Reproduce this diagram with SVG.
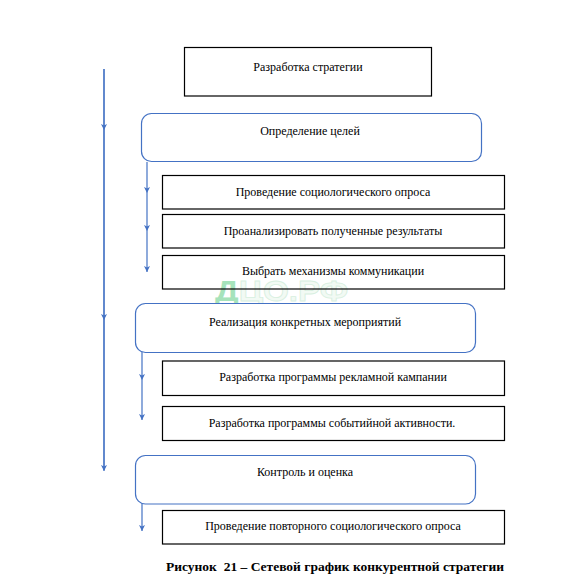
<svg xmlns="http://www.w3.org/2000/svg" width="562" height="586" viewBox="0 0 562 586">
<defs>
<marker id="ah" markerWidth="8" markerHeight="8" refX="6" refY="3" orient="auto" markerUnits="userSpaceOnUse">
<path d="M0,0 L6,3 L0,6 L1.5,3 Z" fill="#4472C4" stroke="none"/>
</marker>
<style>
.box{fill:#fff;stroke:#000;stroke-width:1.2}
.rbox{fill:#fff;stroke:#4472C4;stroke-width:1.2}
.t{font-family:"Liberation Serif","Times New Roman",serif;font-size:12px;fill:#000;text-anchor:middle}
.c{stroke:#4472C4;stroke-width:1.2;fill:none}
.cap{font-family:"Liberation Serif","Times New Roman",serif;font-size:13.5px;font-weight:bold;fill:#000;text-anchor:middle;white-space:pre}
</style>
</defs>
<rect width="562" height="586" fill="#fff"/>
<g id="connectors">
<line class="c" x1="104" y1="69" x2="104" y2="470"/>
<line class="c" x1="104" y1="69" x2="104" y2="130" marker-end="url(#ah)"/>
<line class="c" x1="104" y1="130" x2="104" y2="320" marker-end="url(#ah)"/>
<line class="c" x1="104" y1="320" x2="104" y2="471" marker-end="url(#ah)"/>
<line class="c" x1="147" y1="162" x2="147" y2="193" marker-end="url(#ah)"/>
<line class="c" x1="147" y1="193" x2="147" y2="231" marker-end="url(#ah)"/>
<line class="c" x1="147" y1="231" x2="147" y2="272" marker-end="url(#ah)"/>
<line class="c" x1="142" y1="352" x2="142" y2="380" marker-end="url(#ah)"/>
<line class="c" x1="142" y1="380" x2="142" y2="420" marker-end="url(#ah)"/>
<line class="c" x1="142" y1="504" x2="142" y2="531" marker-end="url(#ah)"/>
</g>
<text x="215" y="301" font-family="Liberation Sans,Arial,sans-serif" font-size="30" font-weight="bold" textLength="133" lengthAdjust="spacingAndGlyphs"><tspan fill="#a6e3bb">Д</tspan><tspan fill="#f2faf4" stroke="#d8efe0" stroke-width="0.8">ЦО.РФ</tspan></text>
<g id="n1"><rect class="box" x="184.5" y="47.5" width="247" height="48.5"/><text class="t" x="308" y="71">Разработка стратегии</text></g>
<g id="n2"><rect class="rbox" x="141.5" y="113.5" width="340" height="48" rx="10"/><text class="t" x="310" y="135">Определение целей</text></g>
<g id="n3"><rect class="box" x="162.5" y="175.5" width="342" height="33.5"/><text class="t" x="333" y="196">Проведение социологического опроса</text></g>
<g id="n4"><rect class="box" x="162.5" y="214.5" width="342" height="33.5"/><text class="t" x="333" y="235">Проанализировать полученные результаты</text></g>
<g id="n5"><rect class="box" x="162.5" y="255.5" width="342" height="33.5" fill-opacity="0"/><text class="t" x="333" y="275">Выбрать механизмы коммуникации</text></g>
<g id="n6"><rect class="rbox" x="135.5" y="303.5" width="340" height="49" rx="10"/><text class="t" x="305" y="326">Реализация конкретных мероприятий</text></g>
<g id="n7"><rect class="box" x="162.5" y="361" width="342" height="34.5"/><text class="t" x="333" y="381">Разработка программы рекламной кампании</text></g>
<g id="n8"><rect class="box" x="162.5" y="406.5" width="342" height="34"/><text class="t" x="332" y="427">Разработка программы событийной активности.</text></g>
<g id="n9"><rect class="rbox" x="135.5" y="455.5" width="340" height="48.5" rx="10"/><text class="t" x="305" y="476">Контроль и оценка</text></g>
<g id="n10"><rect class="box" x="162.5" y="510.5" width="342" height="33.5"/><text class="t" x="333" y="530">Проведение повторного социологического опроса</text></g>
<text class="cap" x="335" y="571">Рисунок  21 – Сетевой график конкурентной стратегии</text>
</svg>
